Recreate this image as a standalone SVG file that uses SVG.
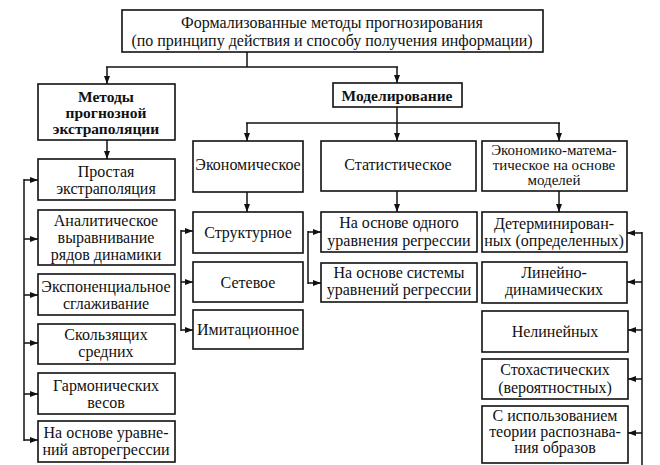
<svg xmlns="http://www.w3.org/2000/svg" width="660" height="465" viewBox="0 0 660 465">
<defs>
<marker id="ah" viewBox="0 0 8 6" refX="8" refY="3" markerWidth="8" markerHeight="6" markerUnits="userSpaceOnUse" orient="auto">
<path d="M0,0 L8,3 L0,6 z" fill="#111"/>
</marker>
<style>
rect{fill:#fff;stroke:#111;stroke-width:1.6}
text{font-family:"Liberation Serif","Times New Roman",serif;font-size:16px;fill:#111;text-anchor:middle}
.b{font-weight:bold;font-size:15.5px}
.s{font-size:15px}
.c line{stroke:#111;stroke-width:1.5;fill:none}
.a{marker-end:url(#ah)}
</style>
</defs>
<rect x="0" y="0" width="660" height="465" style="fill:#fff;stroke:none"/>
<g class="c" id="connectors">
<line x1="247" y1="52" x2="247" y2="67"/>
<line x1="106" y1="67" x2="398" y2="67"/>
<line class="a" x1="107" y1="67" x2="107" y2="84"/>
<line class="a" x1="397" y1="67" x2="397" y2="83"/>
<line class="a" x1="107" y1="140" x2="107" y2="159"/>
<line x1="397" y1="107" x2="397" y2="123"/>
<line x1="246" y1="123" x2="560" y2="123"/>
<line class="a" x1="247" y1="123" x2="247" y2="141"/>
<line class="a" x1="397" y1="123" x2="397" y2="141"/>
<line class="a" x1="559" y1="123" x2="559" y2="141"/>
<line class="a" x1="247" y1="192" x2="247" y2="212"/>
<line class="a" x1="397" y1="191" x2="397" y2="212"/>
<line class="a" x1="559" y1="191" x2="559" y2="212"/>
<line x1="24" y1="179" x2="24" y2="441"/>
<line class="a" x1="24" y1="180" x2="38" y2="180"/>
<line class="a" x1="24" y1="239" x2="38" y2="239"/>
<line class="a" x1="24" y1="295" x2="38" y2="295"/>
<line class="a" x1="24" y1="343" x2="38" y2="343"/>
<line class="a" x1="24" y1="394" x2="38" y2="394"/>
<line class="a" x1="24" y1="440" x2="38" y2="440"/>
<line x1="181" y1="230" x2="181" y2="331"/>
<line class="a" x1="181" y1="231" x2="193" y2="231"/>
<line class="a" x1="181" y1="282" x2="193" y2="282"/>
<line class="a" x1="181" y1="330" x2="193" y2="330"/>
<line x1="308" y1="231" x2="308" y2="284"/>
<line class="a" x1="308" y1="232" x2="321" y2="232"/>
<line class="a" x1="308" y1="283" x2="321" y2="283"/>
<line x1="642" y1="232" x2="642" y2="465"/>
<line class="a" x1="642" y1="233" x2="627" y2="233"/>
<line class="a" x1="642" y1="282" x2="627" y2="282"/>
<line class="a" x1="642" y1="330" x2="628" y2="330"/>
<line class="a" x1="642" y1="379" x2="628" y2="379"/>
<line class="a" x1="642" y1="433" x2="628" y2="433"/>
</g>
<g id="n-top"><rect x="122" y="10" width="421" height="42"/><text x="332" y="28">Формализованные методы прогнозирования</text><text x="332" y="46">(по принципу действия и способу получения информации)</text></g>
<g id="n-extrap"><rect x="38" y="84" width="137" height="56"/><text class="b" x="106" y="102">Методы</text><text class="b" x="106" y="118">прогнозной</text><text class="b" x="106" y="134">экстраполяции</text></g>
<g id="n-model"><rect x="333" y="83" width="129" height="24"/><text class="b" x="397" y="101">Моделирование</text></g>
<g id="n-econ"><rect x="193" y="141" width="110" height="51"/><text x="248" y="170">Экономическое</text></g>
<g id="n-stat"><rect x="321" y="141" width="155" height="50"/><text x="398" y="170">Статистическое</text></g>
<g id="n-ecomath"><rect x="482" y="141" width="145" height="50"/><text class="s" x="554" y="155">Экономико-матема-</text><text class="s" x="554" y="170">тическое на основе</text><text class="s" x="554" y="185">моделей</text></g>
<g id="n-simple"><rect x="38" y="159" width="137" height="41"/><text x="106" y="177">Простая</text><text x="106" y="194">экстраполяция</text></g>
<g id="n-analyt"><rect x="38" y="210" width="137" height="55"/><text x="106" y="226">Аналитическое</text><text x="106" y="243">выравнивание</text><text x="106" y="260">рядов динамики</text></g>
<g id="n-expon"><rect x="38" y="274" width="137" height="41"/><text x="106" y="292">Экспоненциальное</text><text x="106" y="309">сглаживание</text></g>
<g id="n-moving"><rect x="38" y="324" width="137" height="40"/><text x="106" y="340">Скользящих</text><text x="106" y="357">средних</text></g>
<g id="n-harm"><rect x="38" y="373" width="137" height="41"/><text x="106" y="391">Гармонических</text><text x="106" y="408">весов</text></g>
<g id="n-autoreg"><rect x="38" y="421" width="137" height="41"/><text x="106" y="438">На основе уравне-</text><text x="106" y="455">ний авторегрессии</text></g>
<g id="n-struct"><rect x="193" y="212" width="110" height="41"/><text x="248" y="238">Структурное</text></g>
<g id="n-net"><rect x="193" y="262" width="110" height="40"/><text x="248" y="288">Сетевое</text></g>
<g id="n-imit"><rect x="193" y="310" width="110" height="39"/><text x="248" y="335">Имитационное</text></g>
<g id="n-onereg"><rect x="321" y="212" width="156" height="40"/><text x="399" y="228">На основе одного</text><text x="399" y="246">уравнения регрессии</text></g>
<g id="n-sysreg"><rect x="321" y="263" width="156" height="39"/><text x="399" y="278">На основе системы</text><text x="399" y="295">уравнений регрессии</text></g>
<g id="n-determ"><rect x="482" y="212" width="145" height="40"/><text x="554" y="229">Детерминирован-</text><text x="554" y="246">ных (определенных)</text></g>
<g id="n-lindyn"><rect x="482" y="262" width="145" height="41"/><text x="554" y="278">Линейно-</text><text x="554" y="295">динамических</text></g>
<g id="n-nonlin"><rect x="482" y="311" width="146" height="41"/><text x="555" y="337">Нелинейных</text></g>
<g id="n-stoch"><rect x="482" y="359" width="146" height="40"/><text x="555" y="375">Стохастических</text><text x="555" y="393">(вероятностных)</text></g>
<g id="n-pattern"><rect x="482" y="406" width="146" height="57"/><text x="555" y="421">С использованием</text><text x="555" y="437">теории распознава-</text><text x="555" y="453">ния образов</text></g>
</svg>
